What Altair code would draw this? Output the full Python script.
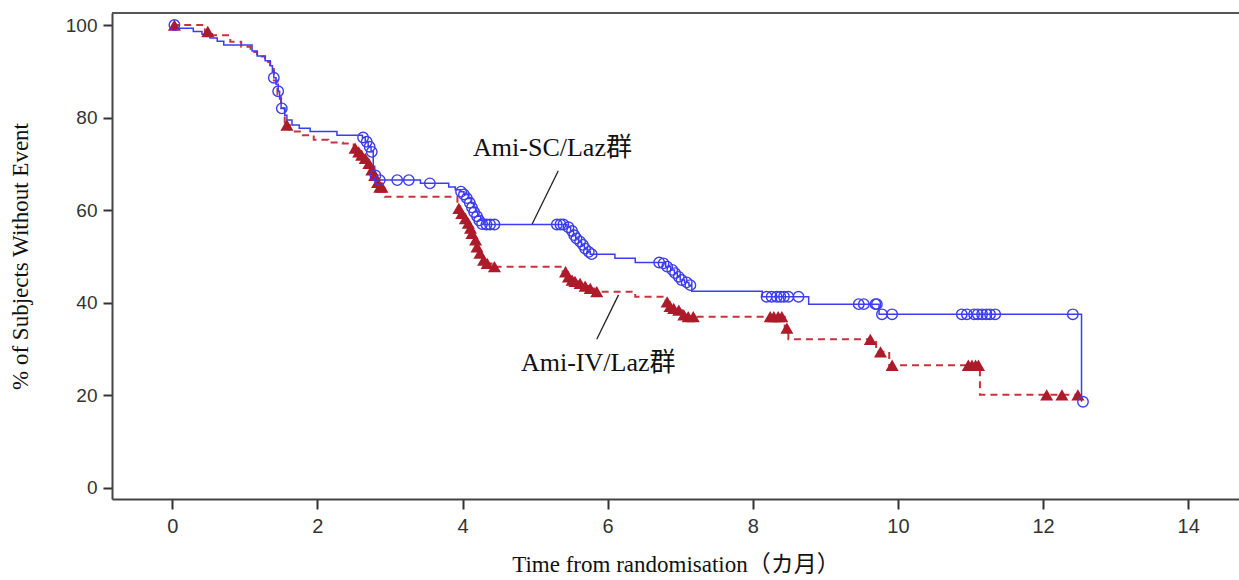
import altair as alt
import pandas as pd

# ---- Kaplan-Meier steps (time in months, % without event) ----
sc_step_t = [0.0, 0.04, 0.29, 0.41, 0.52, 0.62, 0.71, 1.10, 1.17, 1.28, 1.35, 1.38, 1.40, 1.43, 1.46, 1.48,
             1.50, 1.55, 1.58, 1.65, 1.75, 1.90, 2.27, 2.62, 2.66, 2.70, 2.74, 2.77, 2.79, 2.82, 3.42,
             3.81, 3.90, 3.97, 4.02, 4.08, 4.12, 4.15, 4.18, 4.21, 4.25, 4.29, 5.44, 5.49, 5.53, 5.56,
             5.60, 5.64, 5.68, 5.72, 5.76, 6.10, 6.38, 6.80, 6.87, 6.92, 6.96, 7.00, 7.06, 7.12, 7.16,
             8.13, 8.77, 9.74, 12.53]
sc_step_s = [100.0, 99.3, 98.6, 98.0, 97.2, 96.5, 95.7, 94.4, 93.3, 92.3, 91.2, 90.0, 88.6, 87.2, 85.7, 84.0,
             82.0, 80.5, 79.5, 78.4, 77.7, 77.0, 76.2, 75.7, 74.8, 73.7, 72.6, 69.5, 67.5, 66.5, 65.8,
             65.0, 64.4, 64.0, 63.4, 62.5, 61.5, 60.5, 59.6, 58.7, 57.8, 56.9, 56.3, 55.5, 54.6, 53.9,
             53.2, 52.5, 51.7, 51.0, 50.5, 49.6, 48.7, 47.8, 47.1, 46.4, 45.6, 44.9, 44.4, 43.8, 42.5,
             41.3, 39.7, 37.5, 18.6]

iv_step_t = [0.0, 0.45, 0.55, 0.80, 0.95, 1.08, 1.17, 1.28, 1.35, 1.40, 1.45, 1.50, 1.55, 1.62, 1.80,
             1.95, 2.15, 2.35, 2.50, 2.55, 2.60, 2.64, 2.69, 2.73, 2.79, 2.83, 2.87, 2.93, 3.93, 3.97,
             4.02, 4.06, 4.09, 4.12, 4.16, 4.19, 4.22, 4.27, 4.32, 4.40, 5.38, 5.45, 5.50, 5.54, 5.60,
             5.67, 5.74, 5.82, 6.38, 6.80, 6.85, 6.89, 6.95, 7.03, 7.10, 8.44, 8.49, 9.70, 9.88,
             11.13, 12.48]
iv_step_s = [100.0, 98.6, 97.8, 96.4, 95.3, 94.2, 93.2, 92.0, 90.5, 88.0, 85.0, 82.0, 78.4, 77.0, 76.2,
             75.2, 74.6, 74.4, 73.4, 72.6, 71.9, 71.2, 70.1, 68.7, 66.9, 65.4, 64.7, 62.9, 60.8, 59.3,
             58.2, 57.2, 56.1, 55.0, 53.6, 52.1, 50.7, 49.2, 48.5, 47.8, 46.7, 45.6, 44.9, 44.6, 44.2,
             43.6, 43.1, 42.4, 41.3, 40.2, 39.2, 38.8, 38.4, 37.4, 37.0, 34.5, 32.1, 29.4, 26.5,
             20.1, 20.1]

# ---- censored observations ----
sc_cens_t = [0.03, 1.40, 1.46, 1.51, 2.63, 2.68, 2.72, 2.75, 2.80, 2.86, 3.10, 3.26, 3.55,
             3.98, 4.02, 4.06, 4.10, 4.13, 4.16, 4.20, 4.23, 4.27, 4.33, 4.38, 4.44,
             5.30, 5.35, 5.39, 5.46, 5.51, 5.54, 5.57, 5.62, 5.66, 5.69, 5.74, 5.78,
             6.71, 6.77, 6.82, 6.89, 6.93, 6.98, 7.02, 7.09, 7.14,
             8.19, 8.26, 8.33, 8.38, 8.43, 8.49, 8.63,
             9.46, 9.53, 9.69, 9.71, 9.78, 9.92,
             10.88, 10.95, 11.05, 11.10, 11.16, 11.22, 11.27, 11.34, 12.41, 12.55]
sc_cens_s = [100.0, 88.6, 85.7, 82.0, 75.7, 74.8, 73.7, 72.6, 67.5, 66.5, 66.5, 66.5, 65.8,
             64.0, 63.4, 62.6, 61.6, 60.6, 59.6, 58.7, 57.8, 57.0, 56.9, 56.9, 56.9,
             56.9, 56.9, 56.9, 56.3, 55.5, 54.6, 53.9, 53.2, 52.5, 51.7, 51.0, 50.5,
             48.7, 48.5, 47.8, 47.1, 46.4, 45.6, 44.9, 44.4, 43.8,
             41.3, 41.3, 41.3, 41.3, 41.3, 41.3, 41.3,
             39.7, 39.7, 39.7, 39.7, 37.5, 37.5,
             37.5, 37.5, 37.5, 37.5, 37.5, 37.5, 37.5, 37.5, 37.5, 18.6]

iv_cens_t = [0.03, 0.49, 1.58, 2.52, 2.57, 2.61, 2.66, 2.71, 2.75, 2.79, 2.83, 2.86, 2.89,
             3.95, 3.99, 4.04, 4.08, 4.11, 4.13, 4.18, 4.20, 4.24, 4.29, 4.34, 4.44,
             5.42, 5.46, 5.51, 5.55, 5.62, 5.69, 5.76, 5.85,
             6.82, 6.86, 6.91, 6.98, 7.05, 7.11, 7.18,
             8.24, 8.29, 8.35, 8.40, 8.47, 9.62, 9.76, 9.92,
             10.97, 11.02, 11.07, 11.11, 12.05, 12.26, 12.48]
iv_cens_s = [100.0, 98.6, 78.4, 73.4, 72.6, 71.9, 71.2, 70.1, 68.7, 67.5, 66.0, 65.0, 65.0,
             60.4, 59.3, 58.2, 57.2, 56.1, 55.0, 53.6, 52.1, 50.7, 49.2, 48.5, 47.8,
             46.7, 45.6, 44.9, 44.6, 44.2, 43.6, 43.1, 42.4,
             40.2, 39.2, 38.8, 38.4, 37.4, 37.0, 37.0,
             37.0, 37.0, 37.0, 37.0, 34.5, 32.1, 29.4, 26.5,
             26.5, 26.5, 26.5, 26.5, 20.1, 20.1, 20.1]

# ---- annotations ----
label_text = ["Ami-SC/Laz群", "Ami-IV/Laz群"]
label_t = [5.24, 5.87]
label_s = [71.7, 25.3]
leader_t1 = [5.32, 6.15]
leader_s1 = [68.5, 41.7]
leader_t2 = [4.96, 5.85]
leader_s2 = [57.0, 32.1]

x_ticks = [0, 2, 4, 6, 8, 10, 12, 14]
y_ticks = [0, 20, 40, 60, 80, 100]

BLUE = "#3c3cf0"
RED_LINE = "#c8323c"
RED_MARK = "#ad1a2a"

W, H = 1127, 486

sc_steps = pd.DataFrame({"t": sc_step_t, "s": sc_step_s})
iv_steps = pd.DataFrame({"t": iv_step_t, "s": iv_step_s})
sc_cens = pd.DataFrame({"t": sc_cens_t, "s": sc_cens_s})
iv_cens = pd.DataFrame({"t": iv_cens_t, "s": iv_cens_s})
labels = pd.DataFrame({"text": label_text, "t": label_t, "s": label_s})
leaders = pd.DataFrame({"t1": leader_t1, "s1": leader_s1, "t2": leader_t2, "s2": leader_s2})

xs = alt.Scale(domain=[-0.83, 14.7], nice=False, zero=False)
ys = alt.Scale(domain=[-2.4, 102.6], nice=False, zero=False)

x_axis = alt.Axis(
    values=x_ticks, format="d", title="Time from randomisation（カ月）", grid=False,
    tickSize=10, tickWidth=2, tickColor="#333", domainColor="#444", domainWidth=2,
    labelFont="Liberation Sans", labelFontSize=20, labelColor="#333", labelPadding=7,
    titleFont="Liberation Serif, Noto Sans CJK JP", titleFontSize=23, titleFontWeight="normal",
    titleColor="#111", titleX=W / 2, titleY=72, titleBaseline="alphabetic",
    titleAlign="center",
)
y_axis = alt.Axis(
    values=y_ticks, format="d", title="% of Subjects Without Event", grid=False,
    tickSize=9, tickWidth=2, tickColor="#333", domainColor="#444", domainWidth=2,
    labelFont="Liberation Sans", labelFontSize=19, labelColor="#333", labelPadding=6,
    titleFont="Liberation Serif", titleFontSize=23, titleFontWeight="normal", titleColor="#111",
    titleX=-92, titleY=H / 2, titleAngle=270, titleAlign="center", titleBaseline="middle",
)

iv_line = alt.Chart(iv_steps).mark_line(
    interpolate="step-after", color=RED_LINE, strokeWidth=2, strokeDash=[7, 5]
).encode(x=alt.X("t:Q", scale=xs, axis=x_axis), y=alt.Y("s:Q", scale=ys, axis=y_axis))

sc_line = alt.Chart(sc_steps).mark_line(
    interpolate="step-after", color=BLUE, strokeWidth=1.5
).encode(x=alt.X("t:Q", scale=xs), y=alt.Y("s:Q", scale=ys))

iv_pts = alt.Chart(iv_cens).mark_point(
    shape="triangle-up", filled=True, size=170, color=RED_MARK, opacity=1
).encode(x=alt.X("t:Q", scale=xs), y=alt.Y("s:Q", scale=ys))

sc_pts = alt.Chart(sc_cens).mark_point(
    shape="circle", filled=False, size=110, color=BLUE, strokeWidth=1.4, opacity=1
).encode(x=alt.X("t:Q", scale=xs), y=alt.Y("s:Q", scale=ys))

lead = alt.Chart(leaders).mark_rule(color="#222", strokeWidth=1.3).encode(
    x=alt.X("t1:Q", scale=xs), y=alt.Y("s1:Q", scale=ys), x2="t2:Q", y2="s2:Q"
)

txt = alt.Chart(labels).mark_text(
    font="Liberation Serif, Noto Sans CJK JP", fontSize=26, color="#111", align="center", baseline="alphabetic"
).encode(x=alt.X("t:Q", scale=xs), y=alt.Y("s:Q", scale=ys), text="text:N")

top_border = alt.Chart(pd.DataFrame({"a": [0]})).mark_rule(color="#555", strokeWidth=2).encode(
    x=alt.value(0), x2=alt.value(W), y=alt.value(0)
)

chart = alt.layer(top_border, iv_line, sc_line, lead, iv_pts, sc_pts, txt).properties(
    width=W, height=H,
    autosize=alt.AutoSizeParams(type="none"),
    padding={"left": 112, "top": 13, "right": 0, "bottom": 81},
).configure_view(strokeWidth=0).configure(background="white")

chart.save("out.html", embed_options={"renderer": "svg", "actions": False})
